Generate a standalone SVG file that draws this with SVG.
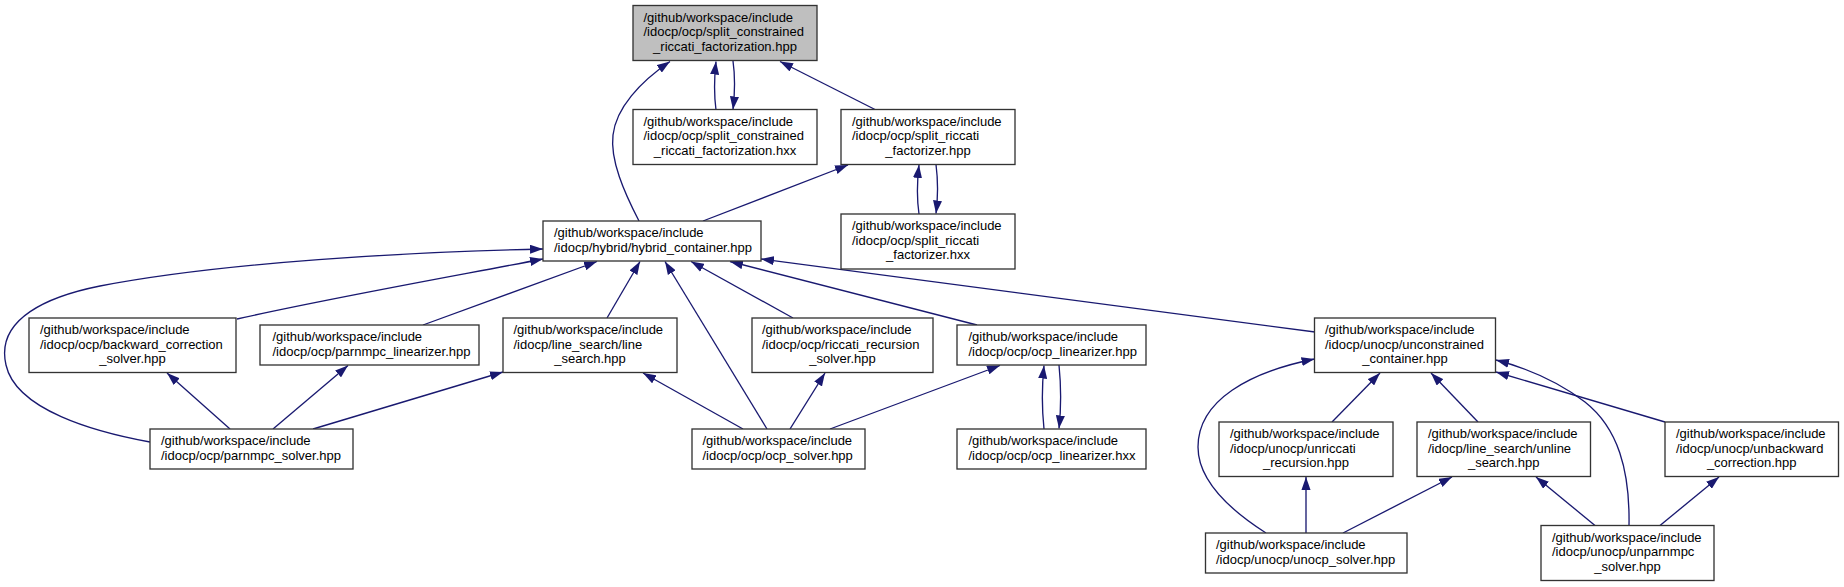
<svg xmlns="http://www.w3.org/2000/svg" width="1844" height="587" viewBox="0 0 1844 587">
<defs>
<style>
.node rect{fill:#ffffff;stroke:#333333;stroke-width:1.33}
.node.root rect{fill:#bfbfbf}
text{font-family:"Liberation Sans",Arial,Helvetica,sans-serif;font-size:13px;fill:#000000}
.c{text-anchor:middle}
.edge{fill:none;stroke:#191970;stroke-width:1.33;marker-end:url(#arr)}
</style>
<marker id="arr" viewBox="0 0 10 7" refX="10" refY="3.5" markerWidth="13" markerHeight="9.3" markerUnits="userSpaceOnUse" orient="auto">
<path d="M0,0 L10,3.5 L0,7 z" fill="#191970" stroke="none"/>
</marker>
</defs>
<rect x="0" y="0" width="1844" height="587" fill="#ffffff"/>
<g id="connectors">
<path class="edge" d="M716,110 C714,95 714,80 716,61.5"/>
<path class="edge" d="M733,61 C735,75 735,92 733,109.5"/>
<path class="edge" d="M876,110 L780,61.5"/>
<path class="edge" d="M639,221 C624,192 610,160 613,135 C616,108 640,82 670,61.5"/>
<path class="edge" d="M703,221 L848,165"/>
<path class="edge" d="M919,214 C917,200 917,182 919,165"/>
<path class="edge" d="M936,164.5 C938,180 938,197 936,213.5"/>
<path class="edge" d="M237,319 C330,298 460,275 543,259"/>
<path class="edge" d="M150,442 C95,432 16,410 6,365 C-5,318 50,296 100,286 C225,262 410,252 543,249"/>
<path class="edge" d="M423,325 L597,261.5"/>
<path class="edge" d="M607,318 L640,261.5"/>
<path class="edge" d="M767,429 L665,261.5"/>
<path class="edge" d="M793,318 L691,261.5"/>
<path class="edge" d="M977,325 L730,261.5"/>
<path class="edge" d="M1315,332 L761,259"/>
<path class="edge" d="M230,429 L167,373"/>
<path class="edge" d="M273,429 L348,365.5"/>
<path class="edge" d="M313,429 L503,372"/>
<path class="edge" d="M743,429 L643,373"/>
<path class="edge" d="M790,429 L825,373"/>
<path class="edge" d="M830,429 L1000,365.5"/>
<path class="edge" d="M1044,429 C1042,410 1042,385 1044,365.5"/>
<path class="edge" d="M1059,365 C1061,385 1061,410 1059,428.5"/>
<path class="edge" d="M1266,533 C1230,510 1198,480 1198,447 C1198,400 1250,372 1314.5,359"/>
<path class="edge" d="M1332,422 L1380,373"/>
<path class="edge" d="M1478,422 L1431,373"/>
<path class="edge" d="M1665,422 L1496,372"/>
<path class="edge" d="M1629,525.5 C1630,470 1618,428 1585,402 C1560,383 1530,369 1496,360"/>
<path class="edge" d="M1306,533 L1306,477"/>
<path class="edge" d="M1343,533 L1452,477"/>
<path class="edge" d="M1595,525.5 L1536,477"/>
<path class="edge" d="M1660,525.5 L1719,477"/>
</g>
<g id="n_top" class="node root">
<rect x="633" y="5.5" width="184" height="55"/>
<text x="643.5" y="21.5">/github/workspace/include</text>
<text x="643.5" y="36.2">/idocp/ocp/split_constrained</text>
<text class="c" x="725" y="50.8">_riccati_factorization.hpp</text>
</g>
<g id="n_hxx" class="node">
<rect x="633" y="109.5" width="184" height="55"/>
<text x="643.5" y="125.5">/github/workspace/include</text>
<text x="643.5" y="140.2">/idocp/ocp/split_constrained</text>
<text class="c" x="725" y="154.8">_riccati_factorization.hxx</text>
</g>
<g id="n_srf" class="node">
<rect x="841" y="109.5" width="174" height="55"/>
<text x="852" y="125.5">/github/workspace/include</text>
<text x="852" y="140.2">/idocp/ocp/split_riccati</text>
<text class="c" x="928" y="154.8">_factorizer.hpp</text>
</g>
<g id="n_srfx" class="node">
<rect x="841" y="214" width="174" height="55"/>
<text x="852" y="230">/github/workspace/include</text>
<text x="852" y="244.7">/idocp/ocp/split_riccati</text>
<text class="c" x="928" y="259.3">_factorizer.hxx</text>
</g>
<g id="n_hyb" class="node">
<rect x="543" y="221" width="218" height="40"/>
<text x="554" y="237">/github/workspace/include</text>
<text x="554" y="251.7">/idocp/hybrid/hybrid_container.hpp</text>
</g>
<g id="n_bcs" class="node">
<rect x="29" y="318" width="207" height="54.5"/>
<text x="40" y="334">/github/workspace/include</text>
<text x="40" y="348.7">/idocp/ocp/backward_correction</text>
<text class="c" x="132.5" y="363.3">_solver.hpp</text>
</g>
<g id="n_pml" class="node">
<rect x="260" y="325" width="219" height="40"/>
<text x="272.5" y="341">/github/workspace/include</text>
<text x="272.5" y="355.7">/idocp/ocp/parnmpc_linearizer.hpp</text>
</g>
<g id="n_ls" class="node">
<rect x="503" y="318" width="174" height="54.5"/>
<text x="513.5" y="334">/github/workspace/include</text>
<text x="513.5" y="348.7">/idocp/line_search/line</text>
<text class="c" x="590" y="363.3">_search.hpp</text>
</g>
<g id="n_rrs" class="node">
<rect x="752" y="318" width="181" height="54.5"/>
<text x="762" y="334">/github/workspace/include</text>
<text x="762" y="348.7">/idocp/ocp/riccati_recursion</text>
<text class="c" x="842.5" y="363.3">_solver.hpp</text>
</g>
<g id="n_ol" class="node">
<rect x="957" y="325" width="189" height="40"/>
<text x="968.5" y="341">/github/workspace/include</text>
<text x="968.5" y="355.7">/idocp/ocp/ocp_linearizer.hpp</text>
</g>
<g id="n_uc" class="node">
<rect x="1314.5" y="318" width="181" height="54.5"/>
<text x="1325" y="334">/github/workspace/include</text>
<text x="1325" y="348.7">/idocp/unocp/unconstrained</text>
<text class="c" x="1405" y="363.3">_container.hpp</text>
</g>
<g id="n_ps" class="node">
<rect x="150" y="429" width="203" height="40"/>
<text x="161" y="445">/github/workspace/include</text>
<text x="161" y="459.7">/idocp/ocp/parnmpc_solver.hpp</text>
</g>
<g id="n_os" class="node">
<rect x="692" y="429" width="173" height="40"/>
<text x="702.5" y="445">/github/workspace/include</text>
<text x="702.5" y="459.7">/idocp/ocp/ocp_solver.hpp</text>
</g>
<g id="n_olx" class="node">
<rect x="957" y="429" width="189" height="40"/>
<text x="968.5" y="445">/github/workspace/include</text>
<text x="968.5" y="459.7">/idocp/ocp/ocp_linearizer.hxx</text>
</g>
<g id="n_urr" class="node">
<rect x="1219" y="422" width="174" height="54.5"/>
<text x="1230" y="438">/github/workspace/include</text>
<text x="1230" y="452.7">/idocp/unocp/unriccati</text>
<text class="c" x="1306" y="467.3">_recursion.hpp</text>
</g>
<g id="n_uls" class="node">
<rect x="1417" y="422" width="173.5" height="54.5"/>
<text x="1428" y="438">/github/workspace/include</text>
<text x="1428" y="452.7">/idocp/line_search/unline</text>
<text class="c" x="1503.7" y="467.3">_search.hpp</text>
</g>
<g id="n_ubc" class="node">
<rect x="1665" y="422" width="173.5" height="54.5"/>
<text x="1676" y="438">/github/workspace/include</text>
<text x="1676" y="452.7">/idocp/unocp/unbackward</text>
<text class="c" x="1751.7" y="467.3">_correction.hpp</text>
</g>
<g id="n_uos" class="node">
<rect x="1205.5" y="533" width="201.5" height="40"/>
<text x="1216" y="549">/github/workspace/include</text>
<text x="1216" y="563.7">/idocp/unocp/unocp_solver.hpp</text>
</g>
<g id="n_ups" class="node">
<rect x="1541" y="525.5" width="173" height="55"/>
<text x="1552" y="541.5">/github/workspace/include</text>
<text x="1552" y="556.2">/idocp/unocp/unparnmpc</text>
<text class="c" x="1627.5" y="570.8">_solver.hpp</text>
</g>
</svg>
